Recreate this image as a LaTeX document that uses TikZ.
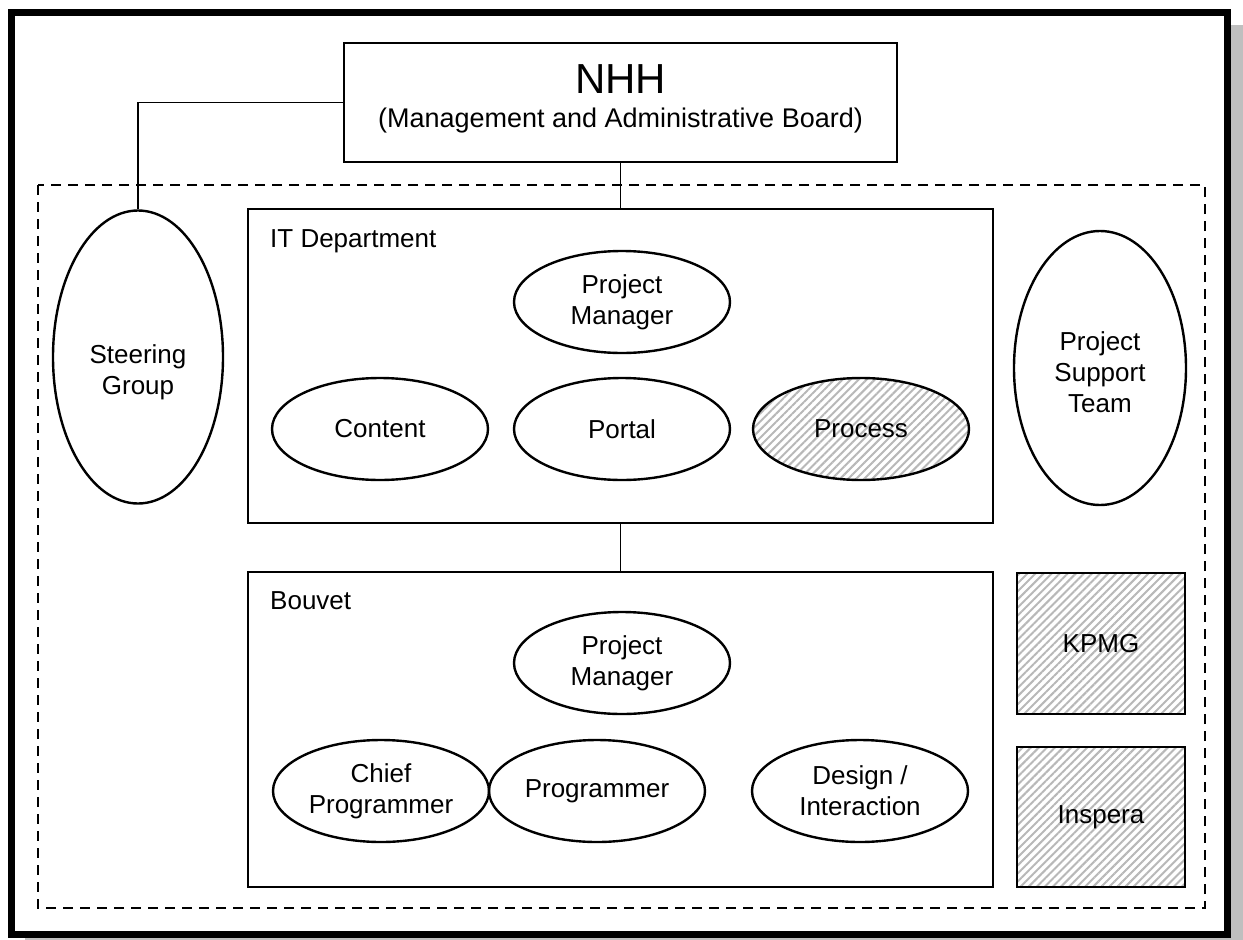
\documentclass[tikz,border=0pt]{standalone}
\usepackage{fontspec}
\setmainfont{Liberation Sans}
\usetikzlibrary{shapes.geometric,patterns.meta}

\begin{document}
\begin{tikzpicture}[x=1pt,y=-1pt,
  lbl/.style={font=\fontsize{26}{31}\selectfont, align=center, inner sep=0pt},
  unit/.style={draw, line width=2pt, inner sep=0pt},
  role/.style={ellipse, draw, line width=2.4pt, minimum width=216pt,
               minimum height=102pt, inner sep=0pt, lbl},
  hatch/.style={pattern={Lines[angle=45,distance=5.7pt,line width=2pt]},
                pattern color=black!28},
  link/.style={line width=1.8pt},
]
\useasboundingbox (0,0) rectangle (1243,940);

% page frame with its drop shadow
\fill[black!25] (25,25) rectangle (1243,940);
\draw[line width=7pt, fill=white] (11.5,12.5) rectangle (1227.5,934.5);

% project boundary
\draw[line width=2pt, dash pattern=on 10pt off 7pt] (38,185) rectangle (1205,908);

% board
\node[unit, minimum width=553pt, minimum height=119pt] (nhh) at (620.5,102.5) {};
\node[font=\fontsize{42}{42}\selectfont, inner sep=0pt, anchor=base] (nhhname) at (620.5,93) {NHH};
\node[lbl, font=\fontsize{27}{31}\selectfont, anchor=base] (nhhboard) at (620.5,127) {(Management and Administrative Board)};

% side groups
\node[role, minimum width=170pt, minimum height=293pt] (steer) at (138,357) {};
\node[lbl] (steertxt) at (138,372) {Steering\\Group};
\node[role, minimum width=172pt, minimum height=274pt] (support) at (1100,368) {};
\node[lbl] (supporttxt) at (1100,372) {Project\\Support\\Team};

% IT department
\node[unit, minimum width=745pt, minimum height=314pt] (it) at (620.5,366) {};
\node[lbl, anchor=base west] (ittitle) at (270,247) {IT Department};
\node[role] (itpm) at (622,302) {Project\\Manager};
\node[role] (content) at (380,429) {Content};
\node[role] (portal) at (622,429) {Portal};
\node[role, hatch] (process) at (861,429) {Process};

% Bouvet
\node[unit, minimum width=745pt, minimum height=315pt] (bouvet) at (620.5,729.5) {};
\node[lbl, anchor=base west] (bouvettitle) at (270,609) {Bouvet};
\node[role] (bvpm) at (622,663) {Project\\Manager};
\node[role] (chief) at (381,791) {Chief\\Programmer};
\node[role] (prog) at (597,791) {Programmer};
\node[role] (design) at (860,791) {Design /\\Interaction};

% external partners
\node[unit, hatch, lbl, minimum width=168pt, minimum height=141pt] (kpmg) at (1101,643.5) {KPMG};
\node[unit, hatch, lbl, minimum width=168pt, minimum height=140pt] (inspera) at (1101,817) {Inspera};

% reporting lines
\draw[link] (steer.north) |- (nhh.west);
\draw[link] (nhh.south) -- (it.north);
\draw[link] (it.south) -- (bouvet.north);
\end{tikzpicture}
\end{document}
